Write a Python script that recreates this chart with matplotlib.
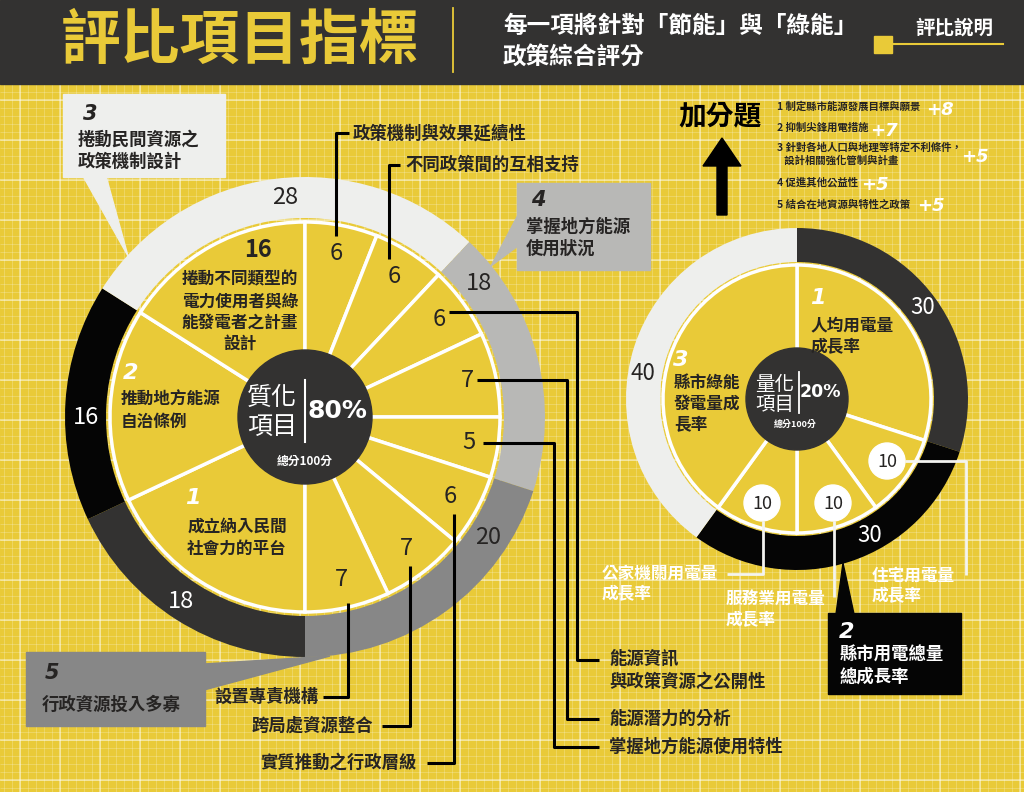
import matplotlib.pyplot as plt
from matplotlib.patches import Rectangle, Polygon, Circle, FancyArrow
import numpy as np

plt.rcParams["font.family"] = ["Noto Sans CJK TC", "DejaVu Sans"]

W, H = 1024, 792
YELLOW = "#E9CA38"
DARK = "#333231"
BLACK = "#050505"
LIGHT = "#EEEFED"
GREY = "#B8B8B6"
MID = "#878787"
INK = "#262423"

# 質化項目（左圓），從六點鐘方向順時針
q_group_names = ["成立納入民間\n社會力的平台", "推動地方能源\n自治條例",
                 "捲動民間資源之\n政策機制設計", "掌握地方能源\n使用狀況", "行政資源投入多寡"]
q_group_scores = [18, 16, 28, 18, 20]
q_item_names = ["成立納入民間\n社會力的平台", "推動地方能源\n自治條例",
                "捲動不同類型的\n電力使用者與綠\n能發電者之計畫\n設計",
                "政策機制與效果延續性", "不同政策間的互相支持",
                "能源資訊\n與政策資源之公開性", "能源潛力的分析", "掌握地方能源使用特性",
                "實質推動之行政層級", "跨局處資源整合", "設置專責機構"]
q_item_scores = [18, 16, 16, 6, 6, 6, 7, 5, 6, 7, 7]

# 量化項目（右圓），從十二點鐘方向順時針
n_group_names = ["人均用電量\n成長率", "縣市用電總量\n總成長率", "縣市綠能\n發電量成\n長率"]
n_group_scores = [30, 30, 40]
n_item_names = ["人均用電量\n成長率", "住宅用電量\n成長率", "服務業用電量\n成長率",
                "公家機關用電量\n成長率", "縣市綠能\n發電量成\n長率"]
n_item_scores = [30, 10, 10, 10, 40]

# 加分題
bonus_items = ["1 制定縣市能源發展目標與願景", "2 抑制尖鋒用電措施",
               "3 針對各地人口與地理等特定不利條件，\n   設計相關強化管制與計畫",
               "4 促進其他公益性", "5 結合在地資源與特性之政策"]
bonus_points = [8, 7, 5, 5, 5]

fig = plt.figure(figsize=(W / 100, H / 100), dpi=100, facecolor=YELLOW)
ax = fig.add_axes([0, 0, 1, 1])

# 背景格線
ax.vlines(np.arange(4, W, 8), 0, H, color="white", alpha=0.25, lw=0.6, zorder=0)
ax.hlines(np.arange(4, H, 8), 0, W, color="white", alpha=0.25, lw=0.6, zorder=0)
ax.vlines(np.arange(20, W, 40), 0, H, color="white", alpha=0.5, lw=1.1, zorder=0)
ax.hlines(np.arange(20, H, 40), 0, W, color="white", alpha=0.5, lw=1.1, zorder=0)

# 標題列
ax.add_patch(Rectangle((0, 0), W, 84, color=DARK, zorder=1))
ax.text(240, 42, "評比項目指標", color=YELLOW, fontsize=43, fontweight="bold",
        ha="center", va="center", zorder=2)
ax.plot([453, 453], [8, 72], color=YELLOW, lw=1.3, zorder=2)
ax.text(503, 26, "每一項將針對「節能」與「綠能」", color="white", fontsize=17,
        fontweight="bold", ha="left", va="center", zorder=2)
ax.text(503, 57, "政策綜合評分", color="white", fontsize=17,
        fontweight="bold", ha="left", va="center", zorder=2)
ax.text(915, 28, "評比說明", color="white", fontsize=14, fontweight="bold",
        ha="left", va="center", zorder=2)
ax.add_patch(Rectangle((874, 36), 18, 17, color=YELLOW, zorder=2))
ax.plot([890, 1003], [44, 44], color=YELLOW, lw=1.5, zorder=2)

# ---- 左圓：質化項目 ----
qc = (305, 417)
ax.pie(q_group_scores, radius=240, center=qc, startangle=90, counterclock=True,
       colors=[DARK, BLACK, LIGHT, GREY, MID], wedgeprops=dict(width=41, linewidth=0))
ax.pie(q_item_scores, radius=195, center=qc, startangle=90, counterclock=True,
       colors=[YELLOW] * len(q_item_scores),
       wedgeprops=dict(edgecolor="white", linewidth=2.5))
ax.add_patch(Circle(qc, 67, color=DARK, zorder=5))
ax.text(272, 398, "質化", color="white", fontsize=18, ha="center", va="center", zorder=6)
ax.text(272, 427, "項目", color="white", fontsize=18, ha="center", va="center", zorder=6)
ax.plot([305, 305], [380, 442], color="white", lw=1.5, zorder=6)
ax.text(337, 411, "80%", color="white", fontsize=18, fontweight="bold",
        family="DejaVu Sans", ha="center", va="center", zorder=6)
ax.text(305, 461, "總分100分", color="white", fontsize=8.5, fontweight="bold",
        ha="center", va="center", zorder=6)

# 小項分數：依扇形中心角
bounds = 180 + np.concatenate([[0], np.cumsum(q_item_scores)]) * 3.6
for i in range(3, len(q_item_scores)):
    ang = np.radians((bounds[i] + bounds[i + 1]) / 2)
    ax.text(qc[0] + 166 * np.sin(ang), qc[1] - 166 * np.cos(ang), str(q_item_scores[i]),
            color=INK, fontsize=17, ha="center", va="center", zorder=6)
ax.text(258, 250, str(q_item_scores[2]), color=INK, fontsize=17, fontweight="bold",
        ha="center", va="center", zorder=6)
ax.text(240, 312, q_item_names[2], color=INK, fontsize=12, fontweight="bold",
        ha="center", va="center", linespacing=1.25, zorder=6)
ax.text(131, 373, "2", color="white", fontsize=16, fontweight="bold", style="italic",
        family="DejaVu Sans", ha="center", va="center", zorder=6)
ax.text(121, 411, q_item_names[1], color=INK, fontsize=12, fontweight="bold",
        ha="left", va="center", linespacing=1.3, zorder=6)
ax.text(193, 498, "1", color="white", fontsize=16, fontweight="bold", style="italic",
        family="DejaVu Sans", ha="center", va="center", zorder=6)
ax.text(237, 538, q_item_names[0], color=INK, fontsize=12, fontweight="bold",
        ha="center", va="center", linespacing=1.3, zorder=6)

# 大項分數
ring_pos = [(181, 602), (86, 417), (285, 198), (479, 283), (488, 538)]
ring_col = ["white", "white", INK, INK, INK]
for (x, y), s, c in zip(ring_pos, q_group_scores, ring_col):
    ax.text(x, y, str(s), color=c, fontsize=17, ha="center", va="center", zorder=6)

# 小項引線
lk = dict(color="black", lw=2.2, zorder=4, solid_capstyle="butt")
ax.plot([336, 336, 349], [236, 133, 133], **lk)
ax.text(353, 133, q_item_names[3], color=INK, fontsize=12.5, fontweight="bold",
        ha="left", va="center", zorder=6)
ax.plot([389, 389, 400], [259, 165, 165], **lk)
ax.text(405, 165, q_item_names[4], color=INK, fontsize=12.5, fontweight="bold",
        ha="left", va="center", zorder=6)
ax.plot([449, 577, 577, 599], [312, 312, 660, 660], **lk)
ax.text(609, 670, q_item_names[5], color=INK, fontsize=12.5, fontweight="bold",
        ha="left", va="center", linespacing=1.35, zorder=6)
ax.plot([477, 567, 567, 599], [380, 380, 719, 719], **lk)
ax.text(609, 719, q_item_names[6], color=INK, fontsize=12.5, fontweight="bold",
        ha="left", va="center", zorder=6)
ax.plot([483, 554, 554, 599], [443, 443, 747, 747], **lk)
ax.text(609, 747, q_item_names[7], color=INK, fontsize=12.5, fontweight="bold",
        ha="left", va="center", zorder=6)
ax.plot([454, 454, 427], [514, 763, 763], **lk)
ax.text(417, 763, q_item_names[8], color=INK, fontsize=12.5, fontweight="bold",
        ha="right", va="center", zorder=6)
ax.plot([410, 410, 382], [566, 726, 726], **lk)
ax.text(373, 726, q_item_names[9], color=INK, fontsize=12.5, fontweight="bold",
        ha="right", va="center", zorder=6)
ax.plot([348, 348, 323], [603, 697, 697], **lk)
ax.text(319, 697, q_item_names[10], color=INK, fontsize=12.5, fontweight="bold",
        ha="right", va="center", zorder=6)

# 大項說明框
ax.add_patch(Polygon([(83, 176), (106, 176), (128, 256)], color=LIGHT, zorder=3))
ax.add_patch(Rectangle((63, 94), 162, 83, color=LIGHT, zorder=3))
ax.text(90, 114, "3", color=INK, fontsize=15, fontweight="bold", style="italic",
        family="DejaVu Sans", ha="center", va="center", zorder=6)
ax.text(78, 151, q_group_names[2], color=INK, fontsize=12.5, fontweight="bold",
        ha="left", va="center", linespacing=1.3, zorder=6)

ax.add_patch(Polygon([(518, 215), (518, 246), (491, 266)], color=GREY, zorder=3))
ax.add_patch(Rectangle((517, 183), 133, 87, color=GREY, zorder=3))
ax.text(538, 200, "4", color=INK, fontsize=15, fontweight="bold", style="italic",
        family="DejaVu Sans", ha="center", va="center", zorder=6)
ax.text(526, 238, q_group_names[3], color=INK, fontsize=12.5, fontweight="bold",
        ha="left", va="center", linespacing=1.3, zorder=6)

ax.add_patch(Polygon([(204, 664), (204, 690), (330, 656)], color=MID, zorder=3))
ax.add_patch(Rectangle((26, 652), 179, 74, color=MID, zorder=3))
ax.text(52, 673, "5", color=INK, fontsize=15, fontweight="bold", style="italic",
        family="DejaVu Sans", ha="center", va="center", zorder=6)
ax.text(42, 705, q_group_names[4], color=INK, fontsize=12.5, fontweight="bold",
        ha="left", va="center", zorder=6)

# ---- 右圓：量化項目 ----
nc = (797, 399)
ax.pie(n_group_scores, radius=171, center=nc, startangle=-90, counterclock=True,
       colors=[DARK, BLACK, LIGHT], wedgeprops=dict(width=34, linewidth=0))
ax.pie(n_item_scores, radius=134, center=nc, startangle=-90, counterclock=True,
       colors=[YELLOW] * len(n_item_scores),
       wedgeprops=dict(edgecolor="white", linewidth=2.5))
ax.add_patch(Circle(nc, 51, color=DARK, zorder=5))
ax.text(775, 384, "量化", color="white", fontsize=14, ha="center", va="center", zorder=6)
ax.text(775, 404, "項目", color="white", fontsize=14, ha="center", va="center", zorder=6)
ax.plot([799, 799], [372, 413], color="white", lw=1.3, zorder=6)
ax.text(820, 392, "20%", color="white", fontsize=12.5, fontweight="bold",
        family="DejaVu Sans", ha="center", va="center", zorder=6)
ax.text(795, 424, "總分100分", color="white", fontsize=6.5, fontweight="bold",
        ha="center", va="center", zorder=6)

ax.text(923, 308, str(n_group_scores[0]), color="white", fontsize=16,
        ha="center", va="center", zorder=6)
ax.text(870, 535, str(n_group_scores[1]), color="white", fontsize=16,
        ha="center", va="center", zorder=6)
ax.text(643, 373, str(n_group_scores[2]), color=INK, fontsize=16,
        ha="center", va="center", zorder=6)

ax.text(818, 298, "1", color="white", fontsize=16, fontweight="bold", style="italic",
        family="DejaVu Sans", ha="center", va="center", zorder=6)
ax.text(811, 336, n_item_names[0], color=INK, fontsize=12, fontweight="bold",
        ha="left", va="center", linespacing=1.25, zorder=6)
ax.text(681, 360, "3", color="white", fontsize=16, fontweight="bold", style="italic",
        family="DejaVu Sans", ha="center", va="center", zorder=6)
ax.text(674, 404, n_item_names[4], color=INK, fontsize=12, fontweight="bold",
        ha="left", va="center", linespacing=1.25, zorder=6)

# 小項：白色圓標與引線
wl = dict(color="#F4F4F0", lw=2, zorder=4, solid_capstyle="butt")
circ_pos = [(887, 461), (833, 503), (762, 503)]
for (x, y), s in zip(circ_pos, n_item_scores[1:4]):
    ax.add_patch(Circle((x, y), 18, color="white", zorder=6))
    ax.text(x, y + 1, str(s), color=INK, fontsize=13, ha="center", va="center", zorder=7)
ax.plot([905, 966, 966], [461, 461, 575], **wl)
ax.plot([834, 834], [521, 597], **wl)
ax.plot([763, 763, 727], [521, 574, 574], **wl)
ax.text(872, 586, n_item_names[1], color="white", fontsize=12, fontweight="bold",
        ha="left", va="center", linespacing=1.2, zorder=6)
ax.text(726, 610, n_item_names[2], color="white", fontsize=12, fontweight="bold",
        ha="left", va="center", linespacing=1.2, zorder=6)
ax.text(602, 584, n_item_names[3], color="white", fontsize=12, fontweight="bold",
        ha="left", va="center", linespacing=1.2, zorder=6)

ax.add_patch(Polygon([(836, 614), (854, 614), (843, 563)], color=BLACK, zorder=3))
ax.add_patch(Rectangle((828, 613), 133, 81, color=BLACK, zorder=3))
ax.text(847, 632, "2", color="white", fontsize=16, fontweight="bold", style="italic",
        family="DejaVu Sans", ha="center", va="center", zorder=6)
ax.text(840, 666, n_group_names[1], color="white", fontsize=12.5, fontweight="bold",
        ha="left", va="center", linespacing=1.3, zorder=6)

# ---- 加分題 ----
ax.text(720, 116, "加分題", color="black", fontsize=20, fontweight="bold",
        ha="center", va="center", zorder=6)
ax.add_patch(FancyArrow(722, 215, 0, -77, width=10, head_width=38, head_length=28,
                        length_includes_head=True, color="black", zorder=6))
bonus_y = [107, 128, 154, 182, 205]
plus_pos = [(940, 110), (884, 131), (975, 157), (875, 185), (931, 206)]
for it, y, p, (px, py) in zip(bonus_items, bonus_y, bonus_points, plus_pos):
    ax.text(777, y, it, color=INK, fontsize=7.5, fontweight="bold",
            ha="left", va="center", linespacing=1.3, zorder=6)
    ax.text(px, py, f"+{p}", color="white", fontsize=13, fontweight="bold",
            style="italic", family="DejaVu Sans", ha="center", va="center", zorder=6)

ax.set_xlim(0, W)
ax.set_ylim(H, 0)
ax.set_aspect("auto")
ax.set_axis_off()

fig.savefig("out.png", dpi=100, facecolor=YELLOW)
